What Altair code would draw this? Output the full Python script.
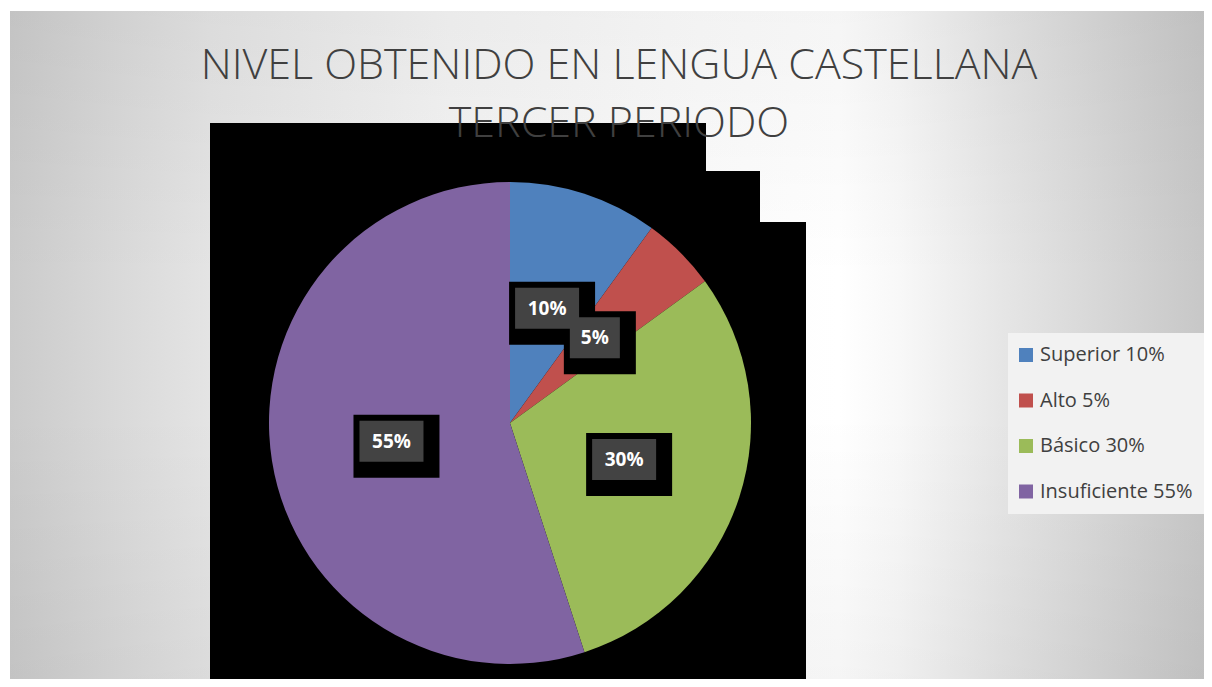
import altair as alt
import pandas as pd

# ---- data ----
niveles = ["Superior", "Alto", "Básico", "Insuficiente"]
valores = [10, 5, 30, 55]
etiquetas = ["Superior 10%", "Alto 5%", "Básico 30%", "Insuficiente 55%"]
orden = [1, 2, 3, 4]
colores = ["#4F81BD", "#C0504D", "#9BBB59", "#8064A2"]
titulo_1 = "NIVEL OBTENIDO EN LENGUA CASTELLANA"
titulo_2 = "TERCER PERIODO"

df = pd.DataFrame({"nivel": niveles, "valor": valores, "etiqueta": etiquetas, "orden": orden})

W, H = 1194, 668
CX, CY, R = 500, 412, 241   # pie centre / radius (view pixels)
LR = 120                    # label radius
one = alt.Data(values=[{}])

# background gradient (horizontal) + slight vertical darkening
bg = alt.Chart(one).mark_rect(
    clip=True,
    fill={
        "gradient": "linear", "x1": 0, "y1": 0, "x2": 1, "y2": 0,
        "stops": [
            {"offset": 0.0, "color": "#cbcbcb"},
            {"offset": 0.083, "color": "#d8d8d8"},
            {"offset": 0.166, "color": "#e4e4e4"},
            {"offset": 0.366, "color": "#f4f4f4"},
            {"offset": 0.574, "color": "#fcfcfc"},
            {"offset": 0.69, "color": "#ffffff"},
            {"offset": 0.74, "color": "#f8f8f8"},
            {"offset": 0.782, "color": "#efefef"},
            {"offset": 0.824, "color": "#e6e6e6"},
            {"offset": 0.907, "color": "#d7d7d7"},
            {"offset": 1.0, "color": "#c6c6c6"},
        ],
    },
).encode(x=alt.value(0), x2=alt.value(1202), y=alt.value(0), y2=alt.value(H))

bg2 = alt.Chart(one).mark_rect(
    clip=True,
    fill={
        "gradient": "linear", "x1": 0, "y1": 0, "x2": 0, "y2": 1,
        "stops": [
            {"offset": 0.0, "color": "rgba(0,0,0,0.04)"},
            {"offset": 0.4, "color": "rgba(0,0,0,0)"},
            {"offset": 0.6, "color": "rgba(0,0,0,0)"},
            {"offset": 1.0, "color": "rgba(0,0,0,0.04)"},
        ],
    },
).encode(x=alt.value(0), x2=alt.value(1202), y=alt.value(0), y2=alt.value(H))

# black rendering blocks
blk1 = alt.Chart(one).mark_rect(color="black").encode(
    x=alt.value(200), x2=alt.value(696), y=alt.value(112), y2=alt.value(H))
blk2 = alt.Chart(one).mark_rect(color="black").encode(
    x=alt.value(696), x2=alt.value(750), y=alt.value(160), y2=alt.value(H))
blk3 = alt.Chart(one).mark_rect(color="black").encode(
    x=alt.value(750), x2=alt.value(796), y=alt.value(211), y2=alt.value(H))

tstyle = dict(font="Open Sans", fontSize=43, fontWeight=300, color="#404040",
              align="center", baseline="alphabetic")
t1 = alt.Chart(one).mark_text(**tstyle).encode(
    x=alt.value(609), y=alt.value(68), text=alt.value(titulo_1))
t2 = alt.Chart(one).mark_text(**tstyle).encode(
    x=alt.value(609), y=alt.value(126), text=alt.value(titulo_2))

base = alt.Chart(df)

pie = base.mark_arc(outerRadius=R).encode(
    theta=alt.Theta("valor:Q", stack=True),
    order=alt.Order("orden:Q"),
    x=alt.value(CX), y=alt.value(CY),
    color=alt.Color(
        "etiqueta:N",
        scale=alt.Scale(domain=etiquetas, range=colores),
        sort=etiquetas,
        legend=alt.Legend(
            title=None, orient="none", legendX=998, legendY=322,
            fillColor="#f2f2f2", padding=12, symbolType="square",
            symbolSize=196, symbolStrokeWidth=0, symbolOffset=-4,
            labelFontSize=20, labelFont="Open Sans", labelColor="#404040",
            rowPadding=25.5, labelOffset=4,
        ),
    ),
)

lab = base.transform_joinaggregate(total="sum(valor)").transform_window(
    cum="sum(valor)", sort=[alt.SortField("orden")], frame=[None, 0]
).transform_calculate(
    mid="(datum.cum - datum.valor/2) / datum.total * 2 * PI",
    lbl="datum.valor + '%'",
).transform_calculate(
    px=f"{CX} + {LR} * sin(datum.mid)",
    py=f"{CY} - {LR} * cos(datum.mid)",
    w="length(datum.lbl) > 2 ? 64 : 50",
).transform_calculate(
    bx1="datum.px - datum.w/2", bx2="datum.px + datum.w/2",
    by1="datum.py - 21", by2="datum.py + 20",
).transform_calculate(
    sx1="datum.bx1 - 6", sx2="datum.bx2 + 16",
    sy1="datum.by1 - 6", sy2="datum.by2 + 16",
)

shadow = lab.mark_rect(color="black").encode(
    x=alt.X("sx1:Q", scale=None, axis=None), x2="sx2:Q",
    y=alt.Y("sy1:Q", scale=None, axis=None), y2="sy2:Q")
box = lab.mark_rect(color="#434343").encode(
    x=alt.X("bx1:Q", scale=None, axis=None), x2="bx2:Q",
    y=alt.Y("by1:Q", scale=None, axis=None), y2="by2:Q")
txt = lab.mark_text(font="Open Sans", fontSize=19, fontWeight="bold", color="white",
                    align="center", baseline="middle").encode(
    x=alt.X("px:Q", scale=None, axis=None),
    y=alt.Y("py:Q", scale=None, axis=None),
    text="lbl:N")

chart = alt.layer(bg, bg2, blk1, blk2, blk3, t1, t2, pie, shadow, box, txt).properties(
    width=W, height=H, padding={"left": 2, "top": 3, "right": 0, "bottom": 0},
    autosize="none", background="white",
).configure_view(stroke=None)

chart.save("out.html", embed_options={"renderer": "svg", "actions": False})
